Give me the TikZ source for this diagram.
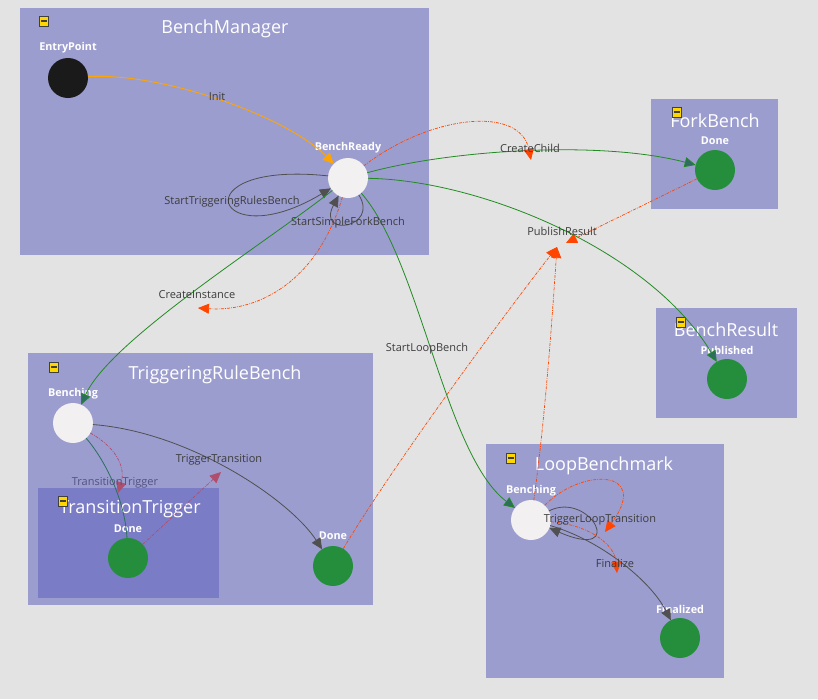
\documentclass[tikz,border=0pt]{standalone}
\usepackage{fontspec}
\setmainfont{Open Sans}
\usetikzlibrary{arrows.meta}

\definecolor{canvas}{RGB}{227,227,227}
\definecolor{regionfill}{RGB}{156,157,207}
\definecolor{subregionfill}{RGB}{122,124,198}
\definecolor{donegreen}{RGB}{37,142,60}
\definecolor{idlewhite}{RGB}{242,240,240}
\definecolor{entryblack}{RGB}{26,26,26}
\definecolor{labelgray}{RGB}{60,60,60}
\definecolor{dimlabel}{RGB}{82,82,130}
\definecolor{flowgreen}{RGB}{34,139,34}
\definecolor{flowteal}{RGB}{45,110,95}
\definecolor{eventred}{RGB}{255,69,0}
\definecolor{dimevent}{RGB}{176,78,110}
\definecolor{initorange}{RGB}{255,165,0}
\definecolor{loopgray}{RGB}{80,80,80}
\definecolor{iconyellow}{RGB}{255,215,0}

\tikzset{
  regionbox/.style={fill=regionfill, draw=none},
  subregionbox/.style={fill=subregionfill, draw=none},
  regiontitle/.style={text=white, font=\fontsize{18}{21}\selectfont, inner sep=0pt},
  state/.style={circle, minimum size=40pt, inner sep=0pt, outer sep=0pt, draw=none},
  statename/.style={text=white, font=\bfseries\fontsize{10.8}{12}\selectfont, inner sep=0pt},
  edgetext/.style={text=labelgray, font=\fontsize{11}{13}\selectfont, inner sep=0pt},
  collapse/.style={rectangle, draw=black!75, line width=0.9pt, fill=iconyellow,
    minimum width=9.5pt, minimum height=10pt, inner sep=0pt,
    path picture={\fill[black!75]
      ([xshift=-2.6pt,yshift=-0.8pt]path picture bounding box.center) rectangle
      ([xshift=2.6pt,yshift=0.8pt]path picture bounding box.center);}},
  tiparrow/.style={-{Triangle[length=11pt,width=10pt,#1]}},
  initflow/.style={draw=initorange, line width=0.9pt, tiparrow={fill=initorange}},
  flow/.style={draw=flowgreen, line width=0.8pt, tiparrow={fill=flowteal}},
  plainflow/.style={draw=flowteal, line width=0.8pt},
  grayflow/.style={draw=loopgray, line width=0.8pt, tiparrow={fill=loopgray}},
  event/.style={draw=eventred, line width=0.7pt,
    dash pattern=on 3pt off 1.2pt on 0.8pt off 1.2pt, tiparrow={fill=eventred}},
  dimeventline/.style={draw=dimevent, line width=0.7pt,
    dash pattern=on 3pt off 1.2pt on 0.8pt off 1.2pt, tiparrow={fill=dimevent}},
}

\begin{document}
\begin{tikzpicture}[x=1pt,y=-1pt]
  \useasboundingbox (0,0) rectangle (818,699);
  \fill[canvas] (0,0) rectangle (818,699);

  % region boxes
  \fill[regionbox] (20,8) rectangle (429,255);
  \fill[regionbox] (651,99) rectangle (778,209);
  \fill[regionbox] (656,308) rectangle (797,418);
  \fill[regionbox] (28,353) rectangle (373,605);
  \fill[subregionbox] (38,488) rectangle (219,598);
  \fill[regionbox] (486,444) rectangle (724,678);

  % region titles
  \node[regiontitle] (tbm) at (225,29) {BenchManager};
  \node[regiontitle] (tfb) at (715,121) {ForkBench};
  \node[regiontitle] (tbr) at (726,330) {BenchResult};
  \node[regiontitle] (ttrb) at (215,375) {TriggeringRuleBench};
  \node[regiontitle] (ttt) at (130,509) {TransitionTrigger};
  \node[regiontitle] (tlb) at (604,466) {LoopBenchmark};

  % collapse buttons
  \node[collapse] (cbm) at (44,21) {};
  \node[collapse] (cfb) at (677,112) {};
  \node[collapse] (cbr) at (681,322) {};
  \node[collapse] (ctrb) at (54,367) {};
  \node[collapse] (ctt) at (63,501) {};
  \node[collapse] (clb) at (511,458) {};

  % states
  \node[state, fill=entryblack] (entry) at (68,78) {};
  \node[state, fill=idlewhite] (ready) at (348,178) {};
  \node[state, fill=donegreen] (fdone) at (715,170) {};
  \node[state, fill=donegreen] (pub) at (727,379) {};
  \node[state, fill=idlewhite] (trbb) at (73,423) {};
  \node[state, fill=donegreen] (ttdone) at (128,558) {};
  \node[state, fill=donegreen] (tdone) at (333,566) {};
  \node[state, fill=idlewhite] (lbb) at (531,520) {};
  \node[state, fill=donegreen] (fin) at (680,638) {};

  % state names
  \node[statename] (nentry) at (68,48) {EntryPoint};
  \node[statename] (nready) at (348,148) {BenchReady};
  \node[statename] (nfdone) at (715,141) {Done};
  \node[statename] (npub) at (727,350) {Published};
  \node[statename] (ntrbb) at (73,394) {Benching};
  \node[statename] (nttdone) at (128,529) {Done};
  \node[statename] (ntdone) at (333,536) {Done};
  \node[statename] (nlbb) at (531,491) {Benching};
  \node[statename] (nfin) at (680,609) {Finalized};

  % free ends of the event arrows
  \coordinate (cce) at (531,160);
  \coordinate (cie) at (198,308);
  \coordinate (pr1) at (566,243);
  \coordinate (pr2) at (557,247);
  \coordinate (tte) at (118,493);
  \coordinate (tre) at (221,472);
  \coordinate (lle) at (605,532);
  \coordinate (lfe) at (617,573);

  % BenchManager transitions
  \draw[initflow] (entry) .. controls (160,72) and (285,115) .. (ready);
  \draw[grayflow] (ready) .. controls (178,160) and (215,258) .. (ready);
  \draw[grayflow] (ready) .. controls (380,228) and (316,238) .. (ready);
  \draw[flow] (ready) .. controls (450,150) and (600,140) .. (fdone);
  \draw[flow] (ready) .. controls (480,180) and (650,250) .. (pub);
  \draw[flow] (ready) .. controls (420,260) and (445,455) .. (lbb);
  \draw[flow] (ready) .. controls (270,240) and (110,340) .. (trbb);
  \draw[event] (ready) .. controls (430,115) and (520,105) .. (cce);
  \draw[event] (ready) .. controls (318,280) and (260,312) .. (cie);

  % results published back
  \draw[event] (fdone) -- (pr1);
  \draw[event] (tdone) .. controls (390,470) and (500,320) .. (pr2);
  \draw[event] (lbb) .. controls (545,420) and (552,320) .. (pr2);

  % TriggeringRuleBench transitions
  \draw[plainflow] (trbb) .. controls (105,460) and (125,500) .. (ttdone);
  \draw[dimeventline] (trbb) .. controls (120,450) and (125,470) .. (tte);
  \draw[dimeventline] (ttdone) -- (tre);
  \draw[grayflow] (trbb) .. controls (190,432) and (290,500) .. (tdone);

  % LoopBenchmark transitions
  \draw[grayflow] (lbb) .. controls (590,490) and (628,562) .. (lbb);
  \draw[grayflow] (lbb) .. controls (600,540) and (650,580) .. (fin);
  \draw[event] (lbb) .. controls (580,468) and (652,468) .. (lle);
  \draw[event] (lbb) .. controls (590,525) and (615,545) .. (lfe);

  % transition labels
  \node[edgetext] (linit) at (217,97) {Init};
  \node[edgetext] (lstrb) at (232,202) {StartTriggeringRulesBench};
  \node[edgetext] (lssfb) at (348,223) {StartSimpleForkBench};
  \node[edgetext] (lcc) at (530,148) {CreateChild};
  \node[edgetext] (lpr) at (562,231) {PublishResult};
  \node[edgetext] (lci) at (197,295) {CreateInstance};
  \node[edgetext] (lslb) at (427,349) {StartLoopBench};
  \node[edgetext, text=dimlabel] (ltt) at (115,483) {TransitionTrigger};
  \node[edgetext] (ltr) at (219,460) {TriggerTransition};
  \node[edgetext] (lltr) at (600,520) {TriggerLoopTransition};
  \node[edgetext] (lfinal) at (615,563) {Finalize};
\end{tikzpicture}
\end{document}
